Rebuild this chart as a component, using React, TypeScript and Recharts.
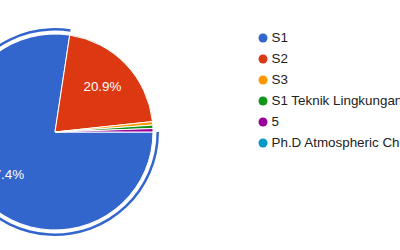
import React from "react";
import { Cell, Legend, Pie, PieChart } from "recharts";

const categories = ["S1", "S2", "S3", "S1 Teknik Lingkungan", "5", "Ph.D Atmospheric Chemistry"];
const responses = [137, 37, 1, 1, 1, 0];
const colors = ["#3366cc", "#dc3912", "#ff9900", "#109618", "#990099", "#0099c6"];

const data = categories.map((name, i) => ({ name, value: responses[i] }));

const RAD = Math.PI / 180;
const FONT = "Arial, 'Liberation Sans', sans-serif";

function renderLabel(props: any) {
  const { cx, cy, midAngle, outerRadius, percent } = props;
  if (percent < 0.05) return null;
  const r = outerRadius * 0.67;
  const x = cx + r * Math.cos(-midAngle * RAD);
  const y = cy + r * Math.sin(-midAngle * RAD);
  return (
    <text x={x} y={y} fill="#ffffff" fontSize={13.4} fontFamily={FONT} textAnchor="middle" dominantBaseline="central">
      {(percent * 100).toFixed(1)}%
    </text>
  );
}

function renderLegend() {
  return (
    <div style={{ fontFamily: FONT, fontSize: 13.4, color: "#222222", whiteSpace: "nowrap" }}>
      {categories.map((name, i) => (
        <div key={name} style={{ display: "flex", alignItems: "center", height: 21 }}>
          <svg width={10} height={10} style={{ marginRight: 3.5 }}>
            <circle cx={5} cy={5} r={4.5} fill={colors[i]} />
          </svg>
          <span>{name}</span>
        </div>
      ))}
    </div>
  );
}

export default function App() {
  return (
    <div style={{ position: "absolute", left: 0, top: 0, width: 400, height: 250, overflow: "hidden", background: "#fff" }}>
      <PieChart width={400} height={250} margin={{ top: 0, right: 0, bottom: 0, left: 0 }}>
        <Pie
          data={data}
          dataKey="value"
          cx={55}
          cy={132}
          outerRadius={98}
          startAngle={0}
          endAngle={-360}
          stroke="#ffffff"
          strokeWidth={1}
          label={renderLabel}
          labelLine={false}
          isAnimationActive={false}
        >
          {data.map((d, i) => (
            <Cell key={d.name} fill={colors[i]} />
          ))}
        </Pie>
        <Pie
          data={data}
          dataKey="value"
          cx={55}
          cy={132}
          innerRadius={101.5}
          outerRadius={104}
          startAngle={0}
          endAngle={-360}
          stroke="none"
          isAnimationActive={false}
        >
          {data.map((d, i) => (
            <Cell key={d.name} fill={i === 0 ? colors[0] : "none"} />
          ))}
        </Pie>
        <Legend
          content={renderLegend}
          wrapperStyle={{ position: "absolute", left: 258, top: 27.3, width: 300 }}
        />
      </PieChart>
    </div>
  );
}
